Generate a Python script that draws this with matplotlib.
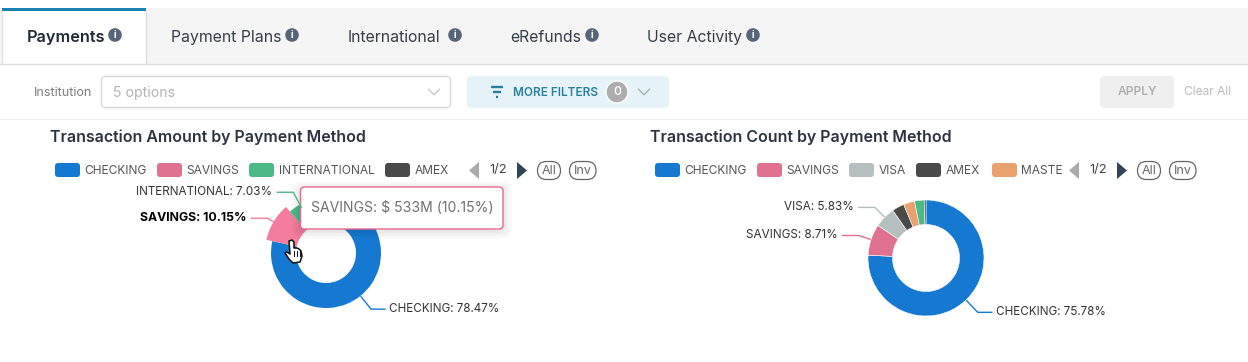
import numpy as np
import matplotlib
matplotlib.use('Agg')
import matplotlib.pyplot as plt
from matplotlib.patches import FancyBboxPatch, Rectangle, Circle, Polygon

plt.rcParams['font.family'] = ['Inter', 'DejaVu Sans']

W, H = 1248, 362

tabs = ['Payments', 'Payment Plans', 'International', 'eRefunds', 'User Activity']

amount_names = ['CHECKING', 'SAVINGS', 'INTERNATIONAL', 'AMEX']
amount_values = [78.47, 10.15, 7.03, 4.35]
amount_colors = ['#1679d1', '#f47c9e', '#4cb987', '#4a4a4a']

# legend cuts the fifth name off in the reference
count_names = ['CHECKING', 'SAVINGS', 'VISA', 'AMEX', 'MASTE']
count_values = [75.78, 8.71, 5.83, 3.4, 3.1, 2.7, 0.48]
count_colors = ['#1679d1', '#e07190', '#b5bfbf', '#4a4a4a', '#e9a26f', '#4cb987', '#2f4554']

tooltip_text = 'SAVINGS: $ 533M (10.15%)'

fig = plt.figure(figsize=(W / 100, H / 100), dpi=100, facecolor='white')


def pixel_axes(z):
    ax = fig.add_axes([0, 0, 1, 1], zorder=z)
    ax.set_xlim(0, W)
    ax.set_ylim(H, 0)
    ax.axis('off')
    ax.patch.set_alpha(0)
    return ax


bg = pixel_axes(0)
fg = pixel_axes(2)


def box(ax, x0, y0, x1, y1, r=4, fc='white', ec='none', lw=1, **kw):
    p = FancyBboxPatch((x0, y0), x1 - x0, y1 - y0, boxstyle=f'round,pad=0,rounding_size={r}',
                       fc=fc, ec=ec, lw=lw, **kw)
    ax.add_patch(p)
    return p


def txt(ax, x, y, s, px=12, color='#444444', ha='left', weight='normal', **kw):
    # +2: va center sits high for this font
    return ax.text(x, y + 2, s, fontsize=px * 0.72, color=color, ha=ha, va='center', weight=weight, **kw)


def chevron(ax, x, y, color='#bbbbbb', w=5.5, h=5.5):
    ax.plot([x - w, x, x + w], [y - h / 2, y + h / 2, y - h / 2], color=color, lw=0.9)


# tab bar
bg.add_patch(Rectangle((0, 8), W, 56, fc='#f5f5f5', ec='none'))
bg.plot([0, W], [64, 64], color='#dddddd', lw=1)
bg.add_patch(Rectangle((2, 8), 144, 57, fc='white', ec='none'))
bg.plot([2, 2], [11, 64], color='#e2e2e2', lw=1)
bg.plot([146, 146], [11, 64], color='#dddddd', lw=1)
bg.add_patch(Rectangle((2, 8), 144, 3, fc='#1a80b6', ec='none'))

tab_x = [27, 171, 348, 510, 647]
icon_x = [115, 292, 455, 592, 753]
for i in range(len(tabs)):
    txt(bg, tab_x[i], 35.5, tabs[i], px=16.3 if i == 0 else 15.8, color='#1f2a37' if i == 0 else '#353e4a',
        weight='semibold' if i == 0 else 'normal')
    bg.add_patch(Circle((icon_x[i], 35), 6.8, fc='#57657a', ec='none'))
    txt(bg, icon_x[i], 33, 'i', px=10, color='white', ha='center', weight='bold')

# filter row
txt(bg, 34, 90.5, 'Institution', px=12.5, color='#7b7b7b')
box(bg, 101.5, 76.5, 450.5, 107.5, r=4, ec='#d9d9d9')
txt(bg, 113, 90.5, '5 options', px=14, color='#b4b4b4')
chevron(bg, 434, 92, color='#c4c4c4')

box(bg, 467, 76, 669, 108, r=4, fc='#e6f4f9')
for w, yy in zip([6, 3.8, 1.2], [87, 92, 97]):
    bg.plot([497 - w, 497 + w], [yy, yy], color='#23809e', lw=1.7, solid_capstyle='butt')
txt(bg, 513, 90.5, 'MORE FILTERS', px=11.8, color='#2a7f9e', weight='semibold')
bg.add_patch(Circle((617, 92), 11, fc='#adadad', ec='white', lw=1))
txt(bg, 617, 90, '0', px=12, color='white', ha='center', weight='semibold')
chevron(bg, 644, 92, color='#9ab0ba')

box(bg, 1100, 76, 1174, 108, r=4, fc='#efefef')
txt(bg, 1137, 90, 'APPLY', px=12, color='#b0b0b0', ha='center', weight='semibold')
txt(bg, 1184, 90, 'Clear All', px=12, color='#bcbcbc')
bg.plot([0, W], [118.5, 118.5], color='#f0f0f0', lw=1)

# chart titles
txt(bg, 50.5, 135, 'Transaction Amount by Payment Method', px=15.9, color='#2b3340', weight='semibold')
txt(bg, 650, 135, 'Transaction Count by Payment Method', px=15.9, color='#2b3340', weight='semibold')


def legend(ax, names, colors, swatch_x, offset):
    for name, col, sx in zip(names, colors, swatch_x):
        box(ax, sx, 163, sx + 25, 177, r=3, fc=col)
        txt(ax, sx + 29.5, 168.5, name, px=12, color='#555555')
    ax.add_patch(Polygon([(offset + 479, 162), (offset + 479, 179), (offset + 469, 170.5)], fc='#aaaaaa', ec='none'))
    txt(ax, offset + 498, 168.5, '1/2', px=13, color='#444444', ha='center')
    ax.add_patch(Polygon([(offset + 517, 162), (offset + 517, 179), (offset + 527, 170.5)], fc='#2f4554', ec='none'))
    box(ax, offset + 537.5, 161.5, offset + 560.5, 179.5, r=9, ec='#666666', lw=0.9)
    txt(ax, offset + 549, 168.5, 'All', px=12.5, color='#666666', ha='center')
    box(ax, offset + 569.5, 161.5, offset + 596, 179.5, r=9, ec='#666666', lw=0.9)
    txt(ax, offset + 583, 168.5, 'Inv', px=12.5, color='#666666', ha='center')


amount_legend_colors = ['#1679d1', '#e07190', '#4cb987', '#4a4a4a']
legend(fg, amount_names, amount_legend_colors, [55, 157, 249, 385], 0)
legend(fg, count_names, count_colors[:5], [655, 757, 849, 916, 992], 600)


def donut(cx, cy, r, hole, values, colors, sep=0.0):
    box_r = 75
    ax = fig.add_axes([(cx - box_r) / W, 1 - (cy + box_r) / H, 2 * box_r / W, 2 * box_r / H], zorder=1)
    wedges, _ = ax.pie(values, colors=colors, startangle=90, counterclock=False, radius=r,
                       wedgeprops=dict(width=r - hole, edgecolor='white', linewidth=sep))
    ax.set_xlim(-box_r, box_r)
    ax.set_ylim(-box_r, box_r)
    ax.patch.set_alpha(0)
    return wedges


def leader(cx, cy, values, i, r, r2, tail, color, label, bold=False, gap=5):
    # elbow line from the middle of slice i out to its label
    total = sum(values)
    mid = (sum(values[:i]) + values[i] / 2) / total * 2 * np.pi
    sx, sy = np.sin(mid), -np.cos(mid)
    x0, y0 = cx + r * sx, cy + r * sy
    x1, y1 = cx + r2 * sx, cy + r2 * sy
    side = 1 if sx > 0 else -1
    x2 = x1 + side * tail
    fg.plot([x0, x1, x2], [y0, y1, y1], color=color, lw=1)
    txt(fg, x2 + side * gap, y1 - 2.5, label, px=12.3 if bold else 11.7, color='#000000' if bold else '#333333',
        ha='left' if side > 0 else 'right', weight='bold' if bold else 'normal')


# left donut, savings slice is hovered
ca, cya = 326, 253
w1 = donut(ca, cya, 55, 30, amount_values, amount_colors)
w1[1].set_radius(61)
w1[1].set_width(31)
leader(ca, cya, amount_values, 0, 56, 72, 14, '#1679d1', f'{amount_names[0]}: {amount_values[0]:.2f}%', gap=4)
leader(ca, cya, amount_values, 1, 60, 68, 16, '#f47c9e', f'{amount_names[1]}: {amount_values[1]:.2f}%', bold=True)
leader(ca, cya, amount_values, 2, 52, 69, 16, '#4cb987', f'{amount_names[2]}: {amount_values[2]:.2f}%')

# right donut
cb, cyb = 926, 258
donut(cb, cyb, 58, 33.5, count_values, count_colors, sep=0.4)
leader(cb, cyb, count_values, 0, 59, 75, 14, '#1679d1', f'{count_names[0]}: {count_values[0]:.2f}%', gap=4)
leader(cb, cyb, count_values, 1, 59, 71, 16, '#e07190', f'{count_names[1]}: {count_values[1]:.2f}%')
leader(cb, cyb, count_values, 2, 59, 72, 16, '#b5bfbf', f'{count_names[2]}: {count_values[2]:.2f}%')

# tooltip with soft shadow
for grow, a in zip([8, 6, 4, 2], [0.015, 0.02, 0.025, 0.03]):
    box(fg, 300 - grow, 187 - grow + 2, 503 + grow, 229 + grow + 2, r=6, fc='black', alpha=a)
box(fg, 300.5, 187, 503, 229, r=4, ec='#e8688f', lw=1)
txt(fg, 311, 205.5, tooltip_text, px=14, color='#707070')

# hand cursor
hand = [(289, 241), (292, 240), (294, 242), (294, 248), (297, 248), (299, 249), (301, 251), (302, 256),
        (300, 262), (293, 263), (289, 259), (285, 253), (287, 252), (290, 254)]
fg.add_patch(Polygon(hand, fc='white', ec='#111111', lw=1.1, joinstyle='round'))
for xx in [294, 297, 299.5]:
    fg.plot([xx, xx], [251, 256], color='#111111', lw=0.7)

fig.savefig('out.png', dpi=100, facecolor='white')
